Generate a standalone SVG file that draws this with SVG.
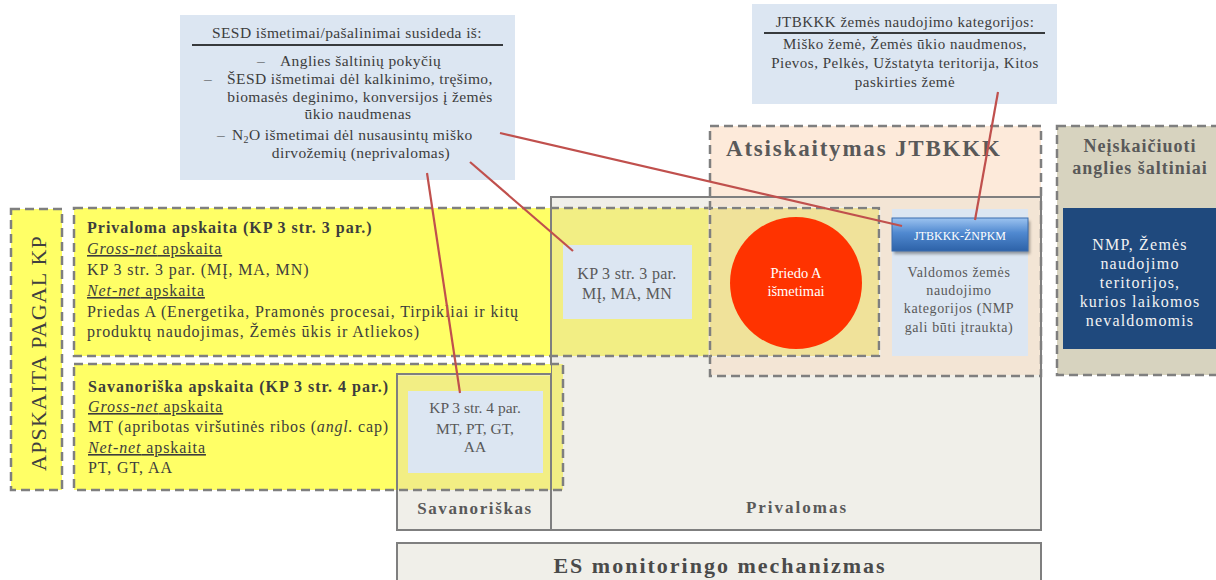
<svg xmlns="http://www.w3.org/2000/svg" width="1216" height="580" viewBox="0 0 1216 580">
<defs>
<style>
text{font-family:"Liberation Serif","Times New Roman",serif;fill:#3d3d3d}
.dash{fill:none;stroke:#7f7f7f;stroke-width:2.5;stroke-dasharray:9 5}
.solid{fill:none;stroke:#7f7f7f;stroke-width:2}
.gray{fill:#f0efe9}
.yel{fill:#ffff66}
.pale{fill:#f2ee84}
.tint{fill:#f0e29a}
.peach{fill:#fdeada}
.peachg{fill:#f3e5d5}
.lb{fill:#dce6f2}
.t16{font-size:16px;letter-spacing:0.9px}
.t15{font-size:15.5px}
.c15{font-size:15.5px;letter-spacing:0.4px}
.j15{font-size:15px;letter-spacing:0.5px}
.b{font-weight:bold}
.ul{text-decoration:underline}
.mid{text-anchor:middle}
.g5{fill:#595959}
.w{fill:#f2f2f2}
.conn{stroke:#c0504d;stroke-width:2.2;fill:none}
</style>
<linearGradient id="btn" x1="0" y1="0" x2="0" y2="1">
<stop offset="0" stop-color="#9cc3f0"/>
<stop offset="0.45" stop-color="#5089d0"/>
<stop offset="1" stop-color="#2d62a8"/>
</linearGradient>
<filter id="sh" x="-10%" y="-20%" width="130%" height="160%">
<feGaussianBlur stdDeviation="1.5"/>
</filter>
</defs>
<rect width="1216" height="580" fill="#ffffff"/>

<g id="privalomas">
<rect class="gray" x="551" y="197" width="490" height="333"/>
<rect class="solid" x="551" y="197" width="490" height="333"/>
<text class="b g5 mid" x="797" y="513" style="font-size:17px;letter-spacing:2px">Privalomas</text>
</g>

<g id="savanoriskas">
<rect class="gray" x="397" y="374" width="154" height="156"/>
<rect class="solid" x="397" y="374" width="154" height="156"/>
<text class="b g5 mid" x="475" y="514" style="font-size:17px;letter-spacing:1.6px">Savanoriškas</text>
</g>

<g id="es-mechanizmas">
<rect class="gray" x="397" y="543" width="644" height="50"/>
<rect class="solid" x="397" y="543" width="644" height="50"/>
<text class="b mid" x="720" y="573" style="font-size:22px;letter-spacing:2px;fill:#4a4a4a">ES monitoringo mechanizmas</text>
</g>

<g id="privaloma-apskaita">
<rect class="yel" x="74" y="208" width="476" height="148"/>
<rect class="pale" x="552" y="208" width="158" height="148"/>
<rect class="tint" x="710" y="208" width="169" height="148"/>
<rect class="dash" x="74" y="208" width="805" height="148"/>
<text class="t16 b" x="87" y="233" style="letter-spacing:1px">Privaloma apskaita (KP 3 str. 3 par.)</text>
<text class="t16 ul" x="87" y="254"><tspan font-style="italic">Gross-net</tspan> apskaita</text>
<text class="t16" x="87" y="275">KP 3 str. 3 par. (MĮ, MA, MN)</text>
<text class="t16 ul" x="87" y="296"><tspan font-style="italic">Net-net</tspan> apskaita</text>
<text class="t16" x="87" y="317">Priedas A (Energetika, Pramonės procesai, Tirpikliai ir kitų</text>
<text class="t16" x="87" y="337">produktų naudojimas, Žemės ūkis ir Atliekos)</text>
</g>

<g id="savanoriska-apskaita">
<rect class="yel" x="74" y="364" width="322" height="126"/>
<rect class="yel" x="396" y="364" width="155" height="9"/>
<rect class="pale" x="398" y="375.5" width="152" height="114.5"/>
<rect class="pale" x="552" y="364" width="11" height="126"/>
<rect class="dash" x="74" y="364" width="489" height="126"/>
<text class="t16 b" x="88" y="392" style="letter-spacing:1px">Savanoriška apskaita (KP 3 str. 4 par.)</text>
<text class="t16 ul" x="88" y="412"><tspan font-style="italic">Gross-net</tspan> apskaita</text>
<text class="t16" x="88" y="432" style="letter-spacing:0.8px">MT (apribotas viršutinės ribos (<tspan font-style="italic">angl.</tspan> cap)</text>
<text class="t16 ul" x="88" y="453"><tspan font-style="italic">Net-net</tspan> apskaita</text>
<text class="t16" x="88" y="473">PT, GT,  AA</text>
</g>

<g id="apskaita-pagal-kp">
<rect class="yel" x="11" y="209" width="51" height="281"/>
<rect class="dash" x="11" y="209" width="51" height="281"/>
<text class="mid" transform="translate(46,353) rotate(-90)" style="font-size:22px;letter-spacing:1.2px;fill:#404040">APSKAITA PAGAL KP</text>
</g>

<g id="atsiskaitymas-jtbkkk">
<rect class="peach" x="710" y="126" width="331" height="70"/>
<path class="peachg" fill-rule="evenodd" d="M710 198.2H1040V375H710Z M708.5 206.5H880.5V357.5H708.5Z"/>
<rect class="dash" x="710" y="126" width="331" height="250"/>
<text class="b g5" x="726" y="156" style="font-size:23px;letter-spacing:1.8px">Atsiskaitymas JTBKKK</text>
</g>

<g id="neiskaiciuoti">
<rect x="1057" y="126" width="180" height="249" fill="#d7d3bf"/>
<rect class="dash" x="1057" y="126" width="180" height="249"/>
<text class="b g5 mid" x="1140" y="152" style="font-size:18px;letter-spacing:1px">Neįskaičiuoti</text>
<text class="b g5 mid" x="1140" y="174" style="font-size:18px;letter-spacing:1px">anglies šaltiniai</text>
</g>

<g id="nmp-nevaldomos">
<rect x="1063" y="208" width="170" height="141" fill="#1f497d"/>
<text class="mid w" x="1140" y="250" style="font-size:16px;letter-spacing:1.2px">NMP, Žemės</text>
<text class="mid w" x="1140" y="269" style="font-size:16px;letter-spacing:1.2px">naudojimo</text>
<text class="mid w" x="1140" y="288" style="font-size:16px;letter-spacing:1.2px">teritorijos,</text>
<text class="mid w" x="1140" y="307" style="font-size:16px;letter-spacing:1.2px">kurios laikomos</text>
<text class="mid w" x="1140" y="326" style="font-size:16px;letter-spacing:1.2px">nevaldomomis</text>
</g>

<g id="kp3-3">
<rect class="lb" x="563" y="245" width="129" height="74"/>
<text class="mid g5" x="627" y="279" style="font-size:16px;letter-spacing:0.3px">KP 3 str. 3 par.</text>
<text class="mid g5" x="627" y="299" style="font-size:16px;letter-spacing:0.3px">MĮ, MA, MN</text>
</g>

<g id="kp3-4">
<rect class="lb" x="408" y="391" width="135" height="82"/>
<text class="t15 mid g5" x="475" y="413">KP 3 str. 4 par.</text>
<text class="t15 mid g5" x="475" y="434">MT, PT, GT,</text>
<text class="t15 mid g5" x="475" y="452">AA</text>
</g>

<g id="priedo-a">
<circle cx="796" cy="283" r="66" fill="#ff3300"/>
<text class="mid" x="796" y="278" style="font-size:14.5px;fill:#ffffff">Priedo A</text>
<text class="mid" x="796" y="296" style="font-size:14.5px;fill:#ffffff">išmetimai</text>
</g>

<g id="valdomos">
<rect class="lb" x="892" y="209" width="136" height="147"/>
<text class="mid g5" x="959" y="277" style="font-size:14px;letter-spacing:0.6px">Valdomos žemės</text>
<text class="mid g5" x="959" y="295" style="font-size:14px;letter-spacing:0.6px">naudojimo</text>
<text class="mid g5" x="959" y="313" style="font-size:14px;letter-spacing:0.6px">kategorijos (NMP</text>
<text class="mid g5" x="959" y="332" style="font-size:14px;letter-spacing:0.6px">gali būti įtraukta)</text>
</g>

<g id="jtbkkk-znpkm">
<rect x="894" y="221" width="136" height="33" fill="#000" opacity="0.35" filter="url(#sh)"/>
<rect x="892" y="218" width="136" height="33" fill="url(#btn)" stroke="#3a6cae" stroke-width="1"/>
<text class="mid" x="960" y="240" style="font-size:12px;fill:#ffffff">JTBKKK-ŽNPKM</text>
</g>

<g id="sesd-callout">
<rect class="lb" x="180" y="15" width="335" height="165"/>
<text class="c15 mid" x="347" y="38">SESD išmetimai/pašalinimai  susideda iš:</text>
<line x1="192" y1="45" x2="503" y2="45" stroke="#000" stroke-width="1.5"/>
<text class="c15" x="257" y="66">–</text>
<text class="c15" x="280" y="66">Anglies šaltinių pokyčių</text>
<text class="c15" x="204" y="84">–</text>
<text class="c15" x="227" y="84">ŠESD išmetimai dėl kalkinimo, tręšimo,</text>
<text class="c15 mid" x="360" y="102">biomasės deginimo, konversijos į žemės</text>
<text class="c15 mid" x="358" y="119">ūkio naudmenas</text>
<text class="c15" x="217" y="140">–</text>
<text class="c15" x="232" y="140">N<tspan dy="3" style="font-size:10px">2</tspan><tspan dy="-3">O išmetimai dėl nusausintų miško</tspan></text>
<text class="c15 mid" x="361" y="158">dirvožemių (neprivalomas)</text>
</g>

<g id="jtbkkk-callout">
<rect class="lb" x="752" y="4" width="305" height="100"/>
<text class="j15 mid" x="905" y="27">JTBKKK žemės naudojimo kategorijos:</text>
<line x1="764" y1="33" x2="1045" y2="33" stroke="#000" stroke-width="1.5"/>
<text class="j15 mid" x="905" y="49">Miško žemė, Žemės ūkio naudmenos,</text>
<text class="j15 mid" x="905" y="68">Pievos, Pelkės, Užstatyta teritorija, Kitos</text>
<text class="j15 mid" x="905" y="87">paskirties žemė</text>
</g>

<g id="connectors">
<line class="conn" x1="427" y1="173" x2="460" y2="393"/>
<line class="conn" x1="470" y1="162" x2="573" y2="251"/>
<line class="conn" x1="500" y1="133" x2="902" y2="226"/>
<line class="conn" x1="998" y1="92" x2="975" y2="220"/>
</g>
</svg>
